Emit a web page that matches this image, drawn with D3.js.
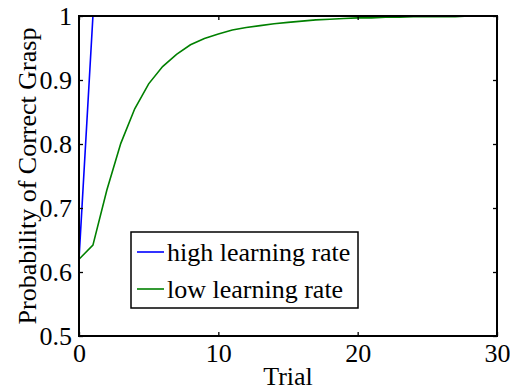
<!DOCTYPE html>
<html>
<head>
<meta charset="utf-8">
<script src="https://cdn.jsdelivr.net/npm/d3@7"></script>
<style>
  body { margin: 0; background: #fff; }
  svg { display: block; }
</style>
</head>
<body>
<svg width="510" height="390"></svg>
<script>
const W = 510, H = 390;
const FONT = 26;
const FAMILY = "Liberation Serif";

// data
const trials = d3.range(0, 31);
const highRate = [0.62, 1, 1, 1, 1, 1, 1, 1, 1, 1, 1, 1, 1, 1, 1, 1,
  1, 1, 1, 1, 1, 1, 1, 1, 1, 1, 1, 1, 1, 1, 1];
const lowRate = [0.62, 0.642, 0.728, 0.801, 0.855, 0.894, 0.921, 0.940, 0.955, 0.965,
  0.972, 0.978, 0.982, 0.985, 0.988, 0.990, 0.992, 0.994, 0.995, 0.996,
  0.997, 0.997, 0.998, 0.998, 0.999, 0.999, 0.999, 0.999, 1.0, 1.0, 1.0];
const seriesNames = ["high learning rate", "low learning rate"];
const seriesColors = ["#0000ff", "#008000"];
const xTicks = [0, 10, 20, 30];
const yTicks = [0.5, 0.6, 0.7, 0.8, 0.9, 1];

const margin = {left: 79, right: 13, top: 16, bottom: 54};

const svg = d3.select("svg");

const x = d3.scaleLinear().domain([0, 30]).range([margin.left, W - margin.right]);
const y = d3.scaleLinear().domain([0.5, 1]).range([H - margin.bottom, margin.top]);

// data lines
const line = d3.line()
  .x((d, i) => x(trials[i]))
  .y(d => y(d));

[highRate, lowRate].forEach((s, k) => {
  svg.append("path")
    .datum(s)
    .attr("fill", "none")
    .attr("stroke", seriesColors[k])
    .attr("stroke-width", 1.6)
    .attr("d", line);
});

// box + inward ticks
function styleAxis(g, labels) {
  g.attr("font-family", FAMILY).attr("font-size", FONT);
  g.select(".domain").remove();
  g.selectAll(".tick line").attr("stroke", "#000").attr("stroke-width", 1.3);
  g.selectAll(".tick text").attr("fill", "#000");
  if (!labels) g.selectAll(".tick text").remove();
}

svg.append("g")
  .attr("transform", `translate(0,${y(0.5)})`)
  .call(d3.axisBottom(x).tickValues(xTicks).tickSize(-4).tickPadding(8).tickFormat(d3.format("d")))
  .call(g => styleAxis(g, true));

svg.append("g")
  .attr("transform", `translate(0,${y(1)})`)
  .call(d3.axisTop(x).tickValues(xTicks).tickSize(-4))
  .call(g => styleAxis(g, false));

svg.append("g")
  .attr("transform", `translate(${x(0)},0)`)
  .call(d3.axisLeft(y).tickValues(yTicks).tickSize(-4).tickPadding(7).tickFormat(d => d === 1 ? "1" : d3.format(".1f")(d)))
  .call(g => styleAxis(g, true));

svg.append("g")
  .attr("transform", `translate(${x(30)},0)`)
  .call(d3.axisRight(y).tickValues(yTicks).tickSize(-4))
  .call(g => styleAxis(g, false));

svg.append("rect")
  .attr("x", x(0)).attr("y", y(1))
  .attr("width", x(30) - x(0)).attr("height", y(0.5) - y(1))
  .attr("fill", "none").attr("stroke", "#000").attr("stroke-width", 2);

// axis labels
svg.append("text")
  .attr("x", (x(0) + x(30)) / 2)
  .attr("y", 385)
  .attr("text-anchor", "middle")
  .attr("font-family", FAMILY).attr("font-size", FONT)
  .text("Trial");

svg.append("text")
  .attr("transform", `translate(36,${(y(0.5) + y(1)) / 2}) rotate(-90)`)
  .attr("text-anchor", "middle")
  .attr("font-family", FAMILY).attr("font-size", FONT)
  .text("Probability of Correct Grasp");

// legend
const leg = svg.append("g").attr("transform", "translate(131,232)");
leg.append("rect")
  .attr("width", 227).attr("height", 76)
  .attr("fill", "#fff").attr("stroke", "#000").attr("stroke-width", 1.5);
seriesNames.forEach((name, k) => {
  const ly = 20 + k * 37;
  leg.append("line")
    .attr("x1", 6).attr("x2", 33).attr("y1", ly).attr("y2", ly)
    .attr("stroke", seriesColors[k]).attr("stroke-width", 1.6);
  leg.append("text")
    .attr("x", 36).attr("y", ly)
    .attr("dy", "0.33em")
    .attr("font-family", FAMILY).attr("font-size", FONT)
    .text(name);
});
</script>
</body>
</html>
